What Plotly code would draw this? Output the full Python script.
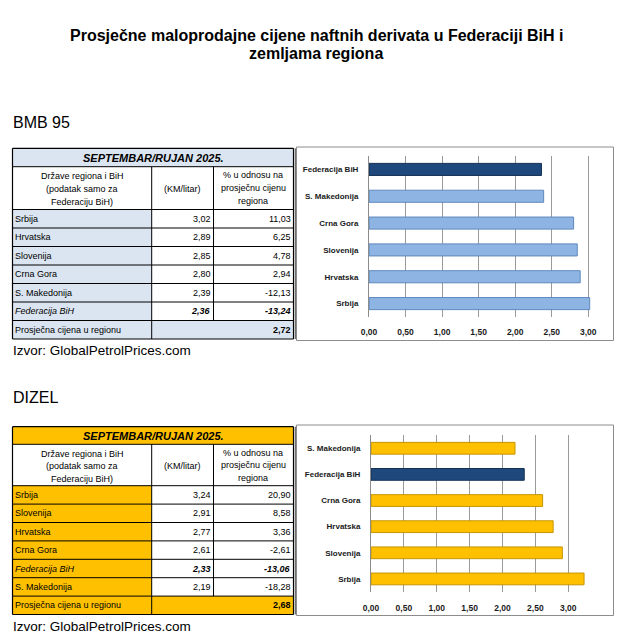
import plotly.graph_objects as go

W, H = 632, 643

# ---------------- data ----------------
title_lines = ["Prosječne maloprodajne cijene naftnih derivata u Federaciji BiH i", "zemljama regiona"]
period = "SEPTEMBAR/RUJAN 2025."
source = "Izvor: GlobalPetrolPrices.com"
header_col1 = ["Države regiona i BiH", "(podatak samo za", "Federaciju BiH)"]
header_col2 = ["(KM/litar)"]
header_col3 = ["% u odnosu na", "prosječnu cijenu", "regiona"]
avg_label = "Prosječna cijena u regionu"

bmb_countries = ["Srbija", "Hrvatska", "Slovenija", "Crna Gora", "S. Makedonija", "Federacija BiH"]
bmb_price = [3.02, 2.89, 2.85, 2.80, 2.39, 2.36]
bmb_pct = [11.03, 6.25, 4.78, 2.94, -12.13, -13.24]
bmb_avg = 2.72

dizel_countries = ["Srbija", "Slovenija", "Hrvatska", "Crna Gora", "Federacija BiH", "S. Makedonija"]
dizel_price = [3.24, 2.91, 2.77, 2.61, 2.33, 2.19]
dizel_pct = [20.90, 8.58, 3.36, -2.61, -13.06, -18.28]
dizel_avg = 2.68

x_ticks = [0, 0.5, 1.0, 1.5, 2.0, 2.5, 3.0]
FED = "Federacija BiH"

# ---------------- helpers ----------------
def px(x):
    return x / W

def py(y):
    return 1 - y / H

def fmt(v):
    return f"{v:.2f}".replace(".", ",")

FONT = "Liberation Sans, Arial, sans-serif"
shapes = []
annotations = []

def rect(x0, y0, x1, y1, fill=None, line=None, lw=1):
    shapes.append(dict(type="rect", xref="paper", yref="paper",
                       x0=px(x0), x1=px(x1), y0=py(y1), y1=py(y0),
                       fillcolor=fill if fill else "rgba(0,0,0,0)",
                       line=dict(color=line if line else "rgba(0,0,0,0)", width=lw if line else 0),
                       layer="below"))

def hline(x0, x1, y, color="#000", w=1):
    shapes.append(dict(type="line", xref="paper", yref="paper",
                       x0=px(x0), x1=px(x1), y0=py(y), y1=py(y),
                       line=dict(color=color, width=w), layer="below"))

def vline(x, y0, y1, color="#000", w=1):
    shapes.append(dict(type="line", xref="paper", yref="paper",
                       x0=px(x), x1=px(x), y0=py(y0), y1=py(y1),
                       line=dict(color=color, width=w), layer="below"))

def text(x, y, s, size=9, anchor="left", bold=False, italic=False, color="#000"):
    if bold:
        s = f"<b>{s}</b>"
    if italic:
        s = f"<i>{s}</i>"
    annotations.append(dict(xref="paper", yref="paper", x=px(x), y=py(y), text=s,
                            showarrow=False, xanchor=anchor, yanchor="middle",
                            borderpad=0, font=dict(family=FONT, size=size, color=color)))

def lines(x, yc, items, step, size=9):
    k = len(items)
    for j, s in enumerate(items):
        text(x, yc + (j - (k - 1) / 2) * step, s, size=size, anchor="center")

def table(top, t_bot, h_bot, row_h, countries, prices, pcts, avg, fill, lstep):
    X0, X1, X2, X3 = 12.5, 151.7, 213.5, 293.5
    n = len(countries)
    bottom = h_bot + row_h * (n + 1)
    # fills
    rect(X0, top, X3, t_bot, fill=fill)
    rect(X0, h_bot, X1, bottom, fill=fill)
    rect(X1, bottom - row_h, X3, bottom, fill=fill)
    # grid
    hline(X0, X3, top, w=1.2)
    hline(X0, X3, t_bot)
    hline(X0, X3, h_bot)
    for i in range(1, n + 1):
        hline(X0, X3, h_bot + row_h * i)
    hline(X0, X3, bottom, w=1.2)
    vline(X0, top, bottom, w=1.2)
    vline(X3, top, bottom, w=1.2)
    vline(X1, t_bot, bottom)
    vline(X2, t_bot, bottom - row_h)
    # shadow line beside table
    vline(X3 + 2, top, bottom, color="#6f6f6f", w=1.5)
    # title row
    text((X0 + X3) / 2, (top + t_bot) / 2 + 0.5, period, size=11, anchor="center", bold=True, italic=True)
    # header
    hc = (t_bot + h_bot) / 2 + 1
    lines((X0 + X1) / 2, hc, header_col1, lstep)
    lines((X1 + X2) / 2, hc, header_col2, lstep)
    lines((X2 + X3) / 2, hc - 1, header_col3, lstep)
    for i, (c, p, q) in enumerate(zip(countries, prices, pcts)):
        yc = h_bot + row_h * (i + 0.5)
        em = c == FED
        text(X0 + 1.5, yc, c, size=9, italic=em)
        text(X2 - 1.5, yc, fmt(p), size=9, anchor="right", bold=em, italic=em)
        text(X3 - 1.5, yc, fmt(q), size=9, anchor="right", bold=em, italic=em)
    yc = bottom - row_h / 2
    text(X0 + 1.5, yc, avg_label, size=9)
    text(X3 - 1.5, yc, fmt(avg), size=9, anchor="right", bold=True)
    text(X0 - 1, bottom + 11.5, source, size=13.5)

# ---------------- tables ----------------
table(148.3, 166.7, 209.5, 18.5, bmb_countries, bmb_price, bmb_pct, bmb_avg, "#dbe5f1", 13)
table(426.7, 444.3, 485.7, 18.4, dizel_countries, dizel_price, dizel_pct, dizel_avg, "#ffc000", 12.5)

# main title
text(316, 35, title_lines[0], size=16, anchor="center", bold=True)
text(316, 53, title_lines[1], size=16, anchor="center", bold=True)

# section headings
text(11.5, 122, "BMB 95", size=16)
text(11.5, 397, "DIZEL", size=16)

# chart frames
rect(296.5, 147, 613.5, 340.5, fill="#ffffff", line="#8c8c8c", lw=1)
rect(296.5, 425, 613.5, 615.5, fill="#ffffff", line="#8c8c8c", lw=1)

# ---------------- charts ----------------
fig = go.Figure()

bmb_colors = ["#1f497d" if c == FED else "#8db4e2" for c in bmb_countries]
bmb_lines = ["#142f52" if c == FED else "#5f88bd" for c in bmb_countries]
fig.add_trace(go.Bar(x=bmb_price, y=bmb_countries, orientation="h",
                     marker=dict(color=bmb_colors, line=dict(color=bmb_lines, width=1)),
                     xaxis="x", yaxis="y", showlegend=False, hoverinfo="x+y"))

dz_colors = ["#1f497d" if c == FED else "#ffc000" for c in dizel_countries]
dz_lines = ["#142f52" if c == FED else "#c79500" for c in dizel_countries]
fig.add_trace(go.Bar(x=dizel_price, y=dizel_countries, orientation="h",
                     marker=dict(color=dz_colors, line=dict(color=dz_lines, width=1)),
                     xaxis="x2", yaxis="y2", showlegend=False, hoverinfo="x+y"))

tick_font = dict(family="Liberation Sans, Arial, sans-serif", size=8.5, color="#1a1a1a", weight="bold")
cat_font = dict(family="Liberation Sans, Arial, sans-serif", size=8, color="#1a1a1a", weight="bold")

def xaxis(dom, rng, standoff, anchor):
    return dict(domain=[px(dom[0]), px(dom[1])], range=rng, tickvals=x_ticks,
                tickformat=".2f", showgrid=True, gridcolor="#9a9a9a", gridwidth=1,
                zeroline=False, showline=False, tickfont=tick_font, ticks="",
                ticklabelstandoff=standoff, fixedrange=True, automargin=False, anchor=anchor)

def yaxis(dom, cats, anchor):
    return dict(domain=[py(dom[1]), py(dom[0])], categoryorder="array", categoryarray=cats,
                showgrid=False, showline=True, linecolor="#8c8c8c", linewidth=1,
                tickfont=cat_font, ticks="", ticklabelstandoff=8, anchor=anchor,
                fixedrange=True, automargin=False)

fig.update_layout(
    width=W, height=H, margin=dict(l=0, r=0, t=0, b=0, pad=0, autoexpand=False),
    paper_bgcolor="#ffffff", plot_bgcolor="rgba(0,0,0,0)",
    separators=",.",
    bargap=0.55,
    xaxis=xaxis((369, 597), [0, 3.12], 8, "y"),
    yaxis=yaxis((156, 317), bmb_countries, "x"),
    xaxis2=xaxis((371, 588), [0, 3.3], 9, "y2"),
    yaxis2=yaxis((435.2, 592), dizel_countries, "x2"),
    shapes=shapes, annotations=annotations,
)

fig.write_html("out.html", config={"displayModeBar": False},
               post_script="document.body.style.margin='0';document.body.style.padding='0';"
                           "document.documentElement.style.overflow='hidden';")
